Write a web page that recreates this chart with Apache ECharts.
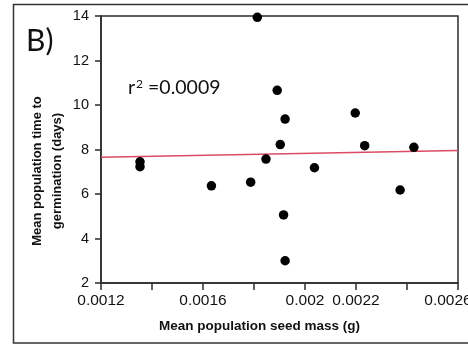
<!DOCTYPE html>
<html>
<head>
<meta charset="utf-8">
<script src="https://cdn.jsdelivr.net/npm/echarts@6/dist/echarts.min.js"></script>
<style>
  html, body { margin: 0; padding: 0; background: #fff; }
  #chart { width: 468px; height: 345px; }
</style>
</head>
<body>
<div id="chart"></div>
<script>
// Mean population seed mass (g) for each population
const seedMass = [
  0.001353, 0.001353, 0.001633, 0.001787, 0.001813, 0.001847,
  0.001891, 0.001903, 0.001916, 0.001922, 0.001922, 0.002037,
  0.002197, 0.002234, 0.002373, 0.002427
];
// Mean population time to germination (days)
const germDays = [
  7.45, 7.23, 6.37, 6.53, 13.94, 7.57,
  10.66, 8.22, 5.06, 9.37, 3.00, 7.18,
  9.64, 8.17, 6.18, 8.10
];
// Fitted regression line end points
const fitX = [0.0012, 0.0026];
const fitY = [7.65, 7.95];
// Axis ticks and labels
const xTickLabels = ['0.0012', '0.0016', '0.002', '0.0022', '0.0026'];
const yTicks = [2, 4, 6, 8, 10, 12, 14];
const panelLabel = 'B)';
const r2Label = '=0.0009';

const chart = echarts.init(document.getElementById('chart'), null, { renderer: 'canvas' });

const axisColor = '#2b2b2b';
const font = '"Liberation Sans", Arial, sans-serif';

chart.setOption({
  animation: false,
  grid: {
    left: 101, top: 16, right: 10, bottom: 62,
    containLabel: false,
    outerBoundsMode: 'none',
    show: true, borderColor: axisColor, borderWidth: 1.5, backgroundColor: '#fff'
  },
  xAxis: {
    type: 'value',
    min: 0.0012, max: 0.0026, interval: 0.0002,
    axisLine: { show: true, lineStyle: { color: axisColor, width: 1.5 } },
    axisTick: { show: true, length: 7, lineStyle: { color: axisColor, width: 1.5 } },
    splitLine: { show: false },
    axisLabel: {
      margin: 10,
      color: '#111',
      fontFamily: font,
      fontSize: 15.5,
      showMaxLabel: true,
      showMinLabel: true,
      hideOverlap: false,
      formatter: function (v) {
        const s = String(parseFloat(v.toFixed(4)));
        if (xTickLabels.indexOf(s) < 0) return '';
        // the last label sits a little left of its tick
        return s === xTickLabels[xTickLabels.length - 1] ? '{last|' + s + '}' : s;
      },
      rich: {
        last: { fontFamily: font, fontSize: 15.5, color: '#111', padding: [0, 20, 0, 0] }
      }
    }
  },
  yAxis: {
    type: 'value',
    min: yTicks[0], max: yTicks[yTicks.length - 1], interval: 2,
    axisLine: { show: true, lineStyle: { color: axisColor, width: 1.5 } },
    axisTick: { show: true, length: 6, lineStyle: { color: axisColor, width: 1.5 } },
    splitLine: { show: false },
    axisLabel: { margin: 12, color: '#111', fontFamily: font, fontSize: 14.5 }
  },
  series: [
    {
      type: 'line',
      data: fitX.map((x, i) => [x, fitY[i]]),
      symbol: 'none',
      lineStyle: { color: '#dc4a64', width: 1.5 },
      z: 2
    },
    {
      type: 'scatter',
      data: seedMass.map((x, i) => [x, germDays[i]]),
      symbol: 'circle',
      symbolSize: 9.5,
      itemStyle: { color: '#000', opacity: 1 },
      clip: true,
      z: 3
    }
  ],
  graphic: [
    {
      type: 'rect',
      shape: { x: 13.5, y: 4.5, width: 520, height: 338.5 },
      style: { fill: 'none', stroke: '#333', lineWidth: 1.5 },
      silent: true, z: 10
    },
    {
      type: 'text',
      left: 26, top: 26,
      style: { text: panelLabel, font: '30px Lato, "Open Sans", sans-serif', fill: '#111' }
    },
    {
      type: 'text',
      left: 128, top: 78,
      style: {
        text: '{b|r}{s|2}{b| ' + r2Label + '}',
        rich: {
          b: { font: '19.5px Lato, "Open Sans", sans-serif', fill: '#111', verticalAlign: 'bottom' },
          s: { font: '12px Lato, "Open Sans", sans-serif', fill: '#111', verticalAlign: 'top', padding: [0, 0, 8, 1] }
        }
      }
    },
    {
      type: 'text',
      x: 259.5, y: 326.5,
      style: {
        text: 'Mean population seed mass (g)',
        font: 'bold 13.5px ' + font, fill: '#111',
        textAlign: 'center', textVerticalAlign: 'middle'
      }
    },
    {
      type: 'text',
      x: 47, y: 171,
      rotation: Math.PI / 2,
      style: {
        text: 'Mean population time to\ngermination (days)',
        font: 'bold 13px ' + font, fill: '#111',
        lineHeight: 20,
        textAlign: 'center', textVerticalAlign: 'middle'
      }
    }
  ]
});
</script>
</body>
</html>
